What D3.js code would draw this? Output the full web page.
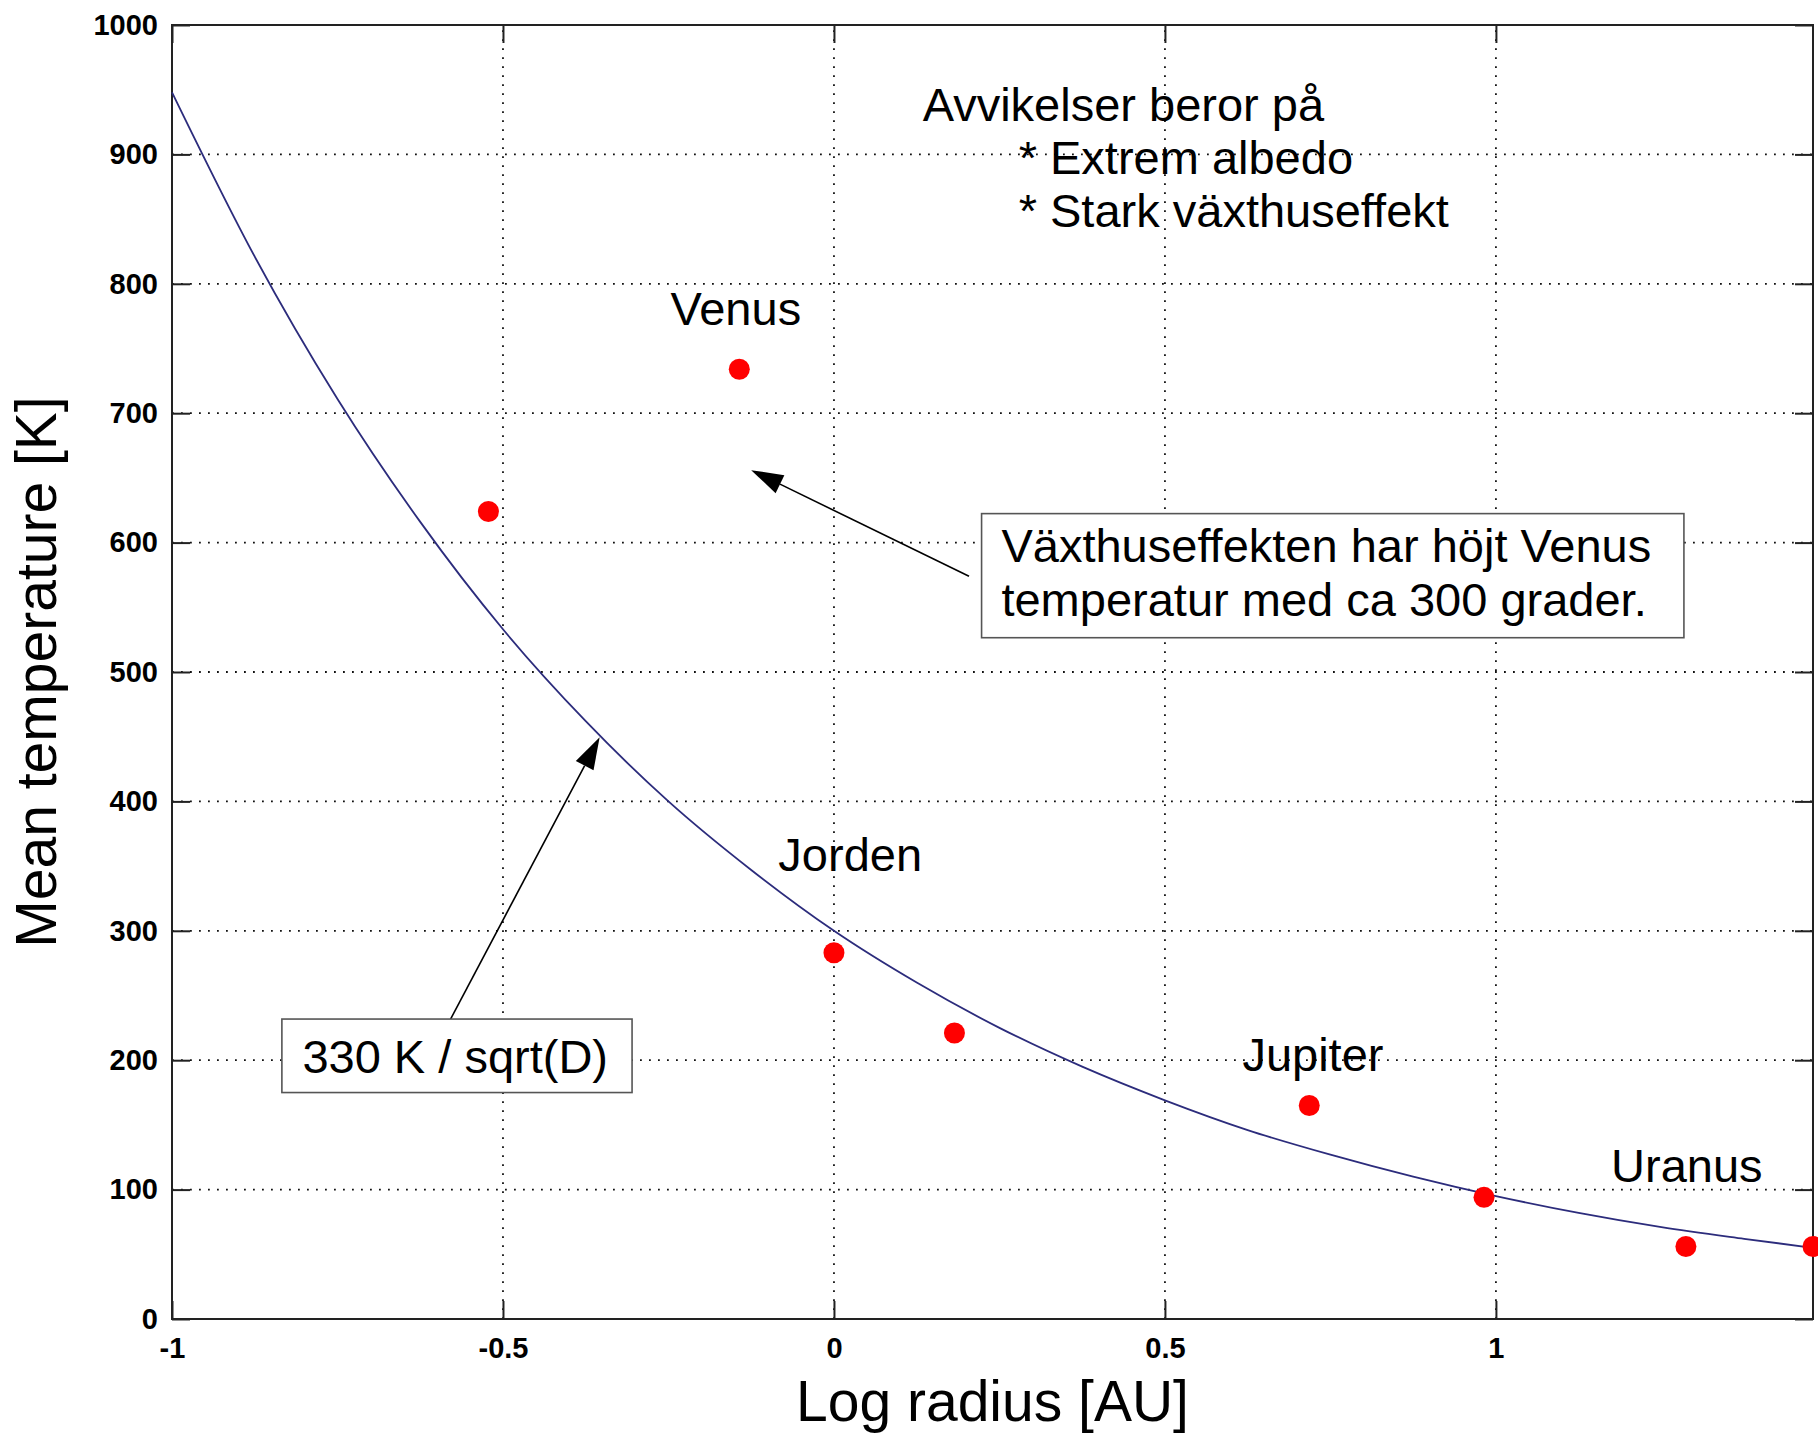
<!DOCTYPE html>
<html>
<head>
<meta charset="utf-8">
<script src="https://cdn.jsdelivr.net/npm/d3@7"></script>
<style>
  body { margin: 0; background: #fff; }
  text { font-family: "Liberation Sans", Arial, Helvetica, sans-serif; fill: #000; }
</style>
</head>
<body>
<div id="chart"></div>
<script>
// tick values
const xTicks = [-1, -0.5, 0, 0.5, 1];
const yTicks = [0, 100, 200, 300, 400, 500, 600, 700, 800, 900, 1000];

// planets: log10 distance [AU] and mean temperature [K]
const planetNames = ['Merkurius', 'Venus', 'Jorden', 'Mars', 'Jupiter', 'Saturnus', 'Uranus', 'Neptunus'];
const planetLogR = [-0.522, -0.143, 0.0, 0.182, 0.718, 0.982, 1.287, 1.479];
const planetTemp = [624, 734, 283, 221, 165, 94, 56, 56];

// model curve 330 K / sqrt(D)
const fitLogR = [-1, -0.875, -0.75, -0.625, -0.5, -0.375, -0.25, -0.125, 0, 0.125, 0.25, 0.375, 0.5, 0.625, 0.75, 0.875, 1.0, 1.125, 1.25, 1.375, 1.479];
const fitTemp = [948, 821, 711, 616, 533, 462, 400, 347, 300, 260, 225, 195, 169, 146, 127, 110, 95, 82, 71, 62, 55];

// planet labels (data coords of text start / baseline)
const labelText = ['Venus', 'Jorden', 'Jupiter', 'Uranus'];
const labelX = [-0.247, -0.084, 0.617, 1.174];
const labelY = [768, 346, 192, 106];

// note at top
const noteLines = ['Avvikelser beror på', '* Extrem albedo', '* Stark växthuseffekt'];
const noteX = [0.134, 0.279, 0.279];
const noteY = [926, 885, 844];

const width = 1818;
const height = 1434;
const margin = { top: 25, right: 5, bottom: 115, left: 172 };
const tickLen = 18;
const font = 47;

const svg = d3.select('#chart').append('svg')
    .attr('width', width)
    .attr('height', height)
    .style('background', '#fff');

const x = d3.scaleLinear()
    .domain([-1, 1.479])
    .range([margin.left, width - margin.right]);

const y = d3.scaleLinear()
    .domain([0, 1000])
    .range([height - margin.bottom, margin.top]);

// dotted grid
const grid = svg.append('g')
    .attr('stroke', '#111')
    .attr('stroke-width', 1.8)
    .attr('stroke-dasharray', '1.8,7.2');

grid.selectAll('.gx')
    .data(xTicks.filter(d => d > -1))
    .join('line')
    .attr('x1', d => x(d)).attr('x2', d => x(d))
    .attr('y1', y(0)).attr('y2', y(1000));

grid.selectAll('.gy')
    .data(yTicks.filter(d => d > 0 && d < 1000))
    .join('line')
    .attr('x1', x(-1)).attr('x2', x(1.479))
    .attr('y1', d => y(d)).attr('y2', d => y(d));

// axes, ticks pointing inwards
const plain = d => String(d);
const axisStyle = g => {
    g.select('.domain').remove();
    g.selectAll('.tick line').attr('stroke', '#222').attr('stroke-width', 2);
    g.selectAll('.tick text')
        .attr('font-size', 29)
        .attr('font-weight', 'bold')
        .attr('fill', '#000')
        .style('font-family', '"Liberation Sans", Arial, sans-serif');
};

svg.append('g')
    .attr('transform', `translate(0,${y(0)})`)
    .call(d3.axisBottom(x).tickValues(xTicks).tickSize(-tickLen).tickPadding(18).tickFormat(plain))
    .call(axisStyle);

svg.append('g')
    .attr('transform', `translate(${x(-1)},0)`)
    .call(d3.axisLeft(y).tickValues(yTicks).tickSize(-tickLen).tickPadding(14).tickFormat(plain))
    .call(axisStyle);

svg.append('g')
    .attr('transform', `translate(${x(1.479)},0)`)
    .call(d3.axisRight(y).tickValues(yTicks).tickSize(-tickLen).tickFormat(''))
    .call(axisStyle);

svg.append('g')
    .attr('transform', `translate(0,${y(1000)})`)
    .call(d3.axisTop(x).tickValues(xTicks).tickSize(-tickLen).tickFormat(''))
    .call(axisStyle);

// box around plot
svg.append('rect')
    .attr('x', x(-1))
    .attr('y', y(1000))
    .attr('width', x(1.479) - x(-1))
    .attr('height', y(0) - y(1000))
    .attr('fill', 'none')
    .attr('stroke', '#222')
    .attr('stroke-width', 2);

// model curve
const line = d3.line()
    .x((d, i) => x(fitLogR[i]))
    .y(d => y(d))
    .curve(d3.curveMonotoneX);

svg.append('path')
    .datum(fitTemp)
    .attr('d', line)
    .attr('fill', 'none')
    .attr('stroke', '#2c2c7c')
    .attr('stroke-width', 1.8);

// planets
svg.append('g')
    .selectAll('circle')
    .data(planetTemp)
    .join('circle')
    .attr('cx', (d, i) => x(planetLogR[i]))
    .attr('cy', d => y(d))
    .attr('r', 10.5)
    .attr('fill', '#f00');

// planet labels
svg.append('g')
    .selectAll('text')
    .data(labelText)
    .join('text')
    .attr('x', (d, i) => x(labelX[i]))
    .attr('y', (d, i) => y(labelY[i]))
    .attr('font-size', font)
    .text(d => d);

// note
svg.append('g')
    .selectAll('text')
    .data(noteLines)
    .join('text')
    .attr('x', (d, i) => x(noteX[i]))
    .attr('y', (d, i) => y(noteY[i]))
    .attr('font-size', font)
    .text(d => d);

// arrow helper
function arrow(x1, y1, x2, y2) {
    const px1 = x(x1), py1 = y(y1), px2 = x(x2), py2 = y(y2);
    const ang = Math.atan2(py2 - py1, px2 - px1);
    const len = 32, half = 10;
    const bx = px2 - len * Math.cos(ang), by = py2 - len * Math.sin(ang);
    svg.append('line')
        .attr('x1', px1).attr('y1', py1)
        .attr('x2', bx).attr('y2', by)
        .attr('stroke', '#000')
        .attr('stroke-width', 1.6);
    svg.append('polygon')
        .attr('points', [
            [px2, py2],
            [bx + half * Math.sin(ang), by - half * Math.cos(ang)],
            [bx - half * Math.sin(ang), by + half * Math.cos(ang)]
        ].map(p => p.join(',')).join(' '))
        .attr('fill', '#000');
}

// text box helper
function textBox(x0, y0, x1, y1, tx, lines, lineY) {
    svg.append('rect')
        .attr('x', x(x0))
        .attr('y', y(y0))
        .attr('width', x(x1) - x(x0))
        .attr('height', y(y1) - y(y0))
        .attr('fill', '#fff')
        .attr('stroke', '#555')
        .attr('stroke-width', 1.6);
    lines.forEach((t, i) => {
        svg.append('text')
            .attr('x', x(tx))
            .attr('y', y(lineY[i]))
            .attr('font-size', font)
            .text(t);
    });
}

// greenhouse note
arrow(0.204, 574, -0.125, 656);
textBox(0.223, 622.4, 1.284, 526.5, 0.253,
    ['Växthuseffekten har höjt Venus', 'temperatur med ca 300 grader.'], [585, 543]);

// model note
arrow(-0.582, 229, -0.354, 449.5);
textBox(-0.834, 231.8, -0.305, 175, -0.803, ['330 K / sqrt(D)'], [190]);

// axis titles
svg.append('text')
    .attr('x', (x(-1) + x(1.479)) / 2)
    .attr('y', 1421)
    .attr('text-anchor', 'middle')
    .attr('font-size', 57)
    .text('Log radius [AU]');

svg.append('text')
    .attr('transform', `translate(56,${(y(0) + y(1000)) / 2}) rotate(-90)`)
    .attr('text-anchor', 'middle')
    .attr('font-size', 57)
    .text('Mean temperature [K]');
</script>
</body>
</html>
